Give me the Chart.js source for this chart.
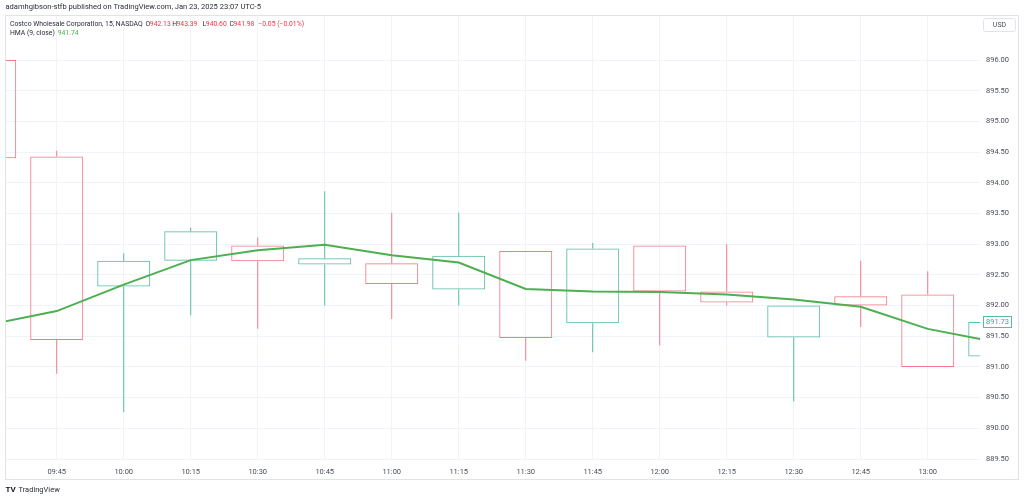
<!DOCTYPE html>
<html>
<head>
<meta charset="utf-8">
<script src="https://cdn.jsdelivr.net/npm/chart.js@4/dist/chart.umd.min.js"></script>
<style>
  html, body { margin: 0; padding: 0; background: #fff; }
  canvas { display: block; }
</style>
</head>
<body>
<canvas id="chart" width="1024" height="500"></canvas>
<script>
// 15 minute candles, index 0 = 09:30
const times  = ['09:30','09:45','10:00','10:15','10:30','10:45','11:00','11:15','11:30','11:45','12:00','12:15','12:30','12:45','13:00','13:15'];
const opens  = [896.00, 894.43, 892.31, 892.73, 892.98, 892.67, 892.69, 892.26, 892.89, 891.71, 892.98, 892.23, 891.48, 892.15, 892.18, 891.17];
const highs  = [896.20, 894.52, 892.85, 893.27, 893.11, 893.86, 893.51, 893.51, 892.89, 893.02, 892.98, 893.00, 892.00, 892.73, 892.56, 891.80];
const lows   = [894.35, 890.89, 890.26, 891.84, 891.62, 892.00, 891.78, 892.00, 891.10, 891.24, 891.35, 892.00, 890.44, 891.65, 891.00, 891.10];
const closes = [894.40, 891.44, 892.73, 893.21, 892.72, 892.77, 892.35, 892.81, 891.47, 892.93, 892.23, 892.05, 892.00, 892.00, 891.00, 891.73];
const hma    = [891.69, 891.91, 892.34, 892.74, 892.90, 892.99, 892.82, 892.70, 892.27, 892.23, 892.22, 892.18, 892.10, 891.98, 891.62, 891.41];

const xTickIdx = [1,2,3,4,5,6,7,8,9,10,11,12,13,14];
const yTicks = [889.5, 890, 890.5, 891, 891.5, 892, 892.5, 893, 893.5, 894, 894.5, 895, 895.5, 896];

const UP = '#56bca5';
const DOWN = '#f47a85';
const FONT = 'Roboto, "Noto Sans", sans-serif';

const isUp = i => closes[i] >= opens[i];
const colorOf = i => isUp(i) ? UP : DOWN;

const bodies = times.map((t, i) => ({ x: i, y: [opens[i], closes[i]] }));
const upperWicks = times.map((t, i) => {
  const top = Math.max(opens[i], closes[i]);
  return highs[i] > top ? { x: i, y: [top, highs[i]] } : { x: i, y: null };
});
const lowerWicks = times.map((t, i) => {
  const bot = Math.min(opens[i], closes[i]);
  return lows[i] < bot ? { x: i, y: [lows[i], bot] } : { x: i, y: null };
});
const hmaPoints = times.map((t, i) => ({ x: i, y: hma[i] }));

const wickStyle = {
  type: 'bar',
  barThickness: 1,
  borderWidth: 0,
  inflateAmount: 0,
  grouped: false,
  clip: 0,
  order: 3,
  backgroundColor: c => colorOf(c.dataIndex)
};

// font size that makes text span the given width
function fitSize(ctx, text, width) {
  ctx.font = '20px ' + FONT;
  return 20 * width / ctx.measureText(text).width;
}

const overlay = {
  id: 'overlay',
  afterDraw(chart) {
    const ctx = chart.ctx;
    ctx.save();
    // frame
    ctx.strokeStyle = '#e0e3eb';
    ctx.lineWidth = 1;
    ctx.strokeRect(5.5, 15.5, 1013, 464);

    // USD box
    ctx.beginPath();
    ctx.roundRect(983.5, 18.5, 32, 13, 2);
    ctx.stroke();
    ctx.fillStyle = '#4a4e5a';
    ctx.font = '7px ' + FONT;
    ctx.textBaseline = 'middle';
    ctx.textAlign = 'center';
    ctx.fillText('USD', 999.5, 25.5);

    // last price label
    const last = closes[closes.length - 1];
    const py = Math.round(chart.scales.y.getPixelForValue(last));
    ctx.fillStyle = '#fff';
    ctx.fillRect(983.5, py - 5.5, 28, 11);
    ctx.strokeStyle = UP;
    ctx.strokeRect(983.5, py - 5.5, 28, 11);
    ctx.fillStyle = '#3aa88f';
    ctx.font = '7.5px ' + FONT;
    ctx.textAlign = 'left';
    ctx.fillText(last.toFixed(2), 986, py + 0.5);

    // header
    const dark = '#2a2e39', red = '#f23645';
    const line1 = 'adamhgibson-stfb published on TradingView.com, Jan 23, 2025 23:07 UTC-5';
    ctx.font = fitSize(ctx, line1, 256) + 'px ' + FONT;
    ctx.fillStyle = dark;
    ctx.fillText(line1, 5.5, 7.5);

    const title = 'Costco Wholesale Corporation, 15, NASDAQ';
    const s2 = fitSize(ctx, title, 133);
    ctx.font = s2 + 'px ' + FONT;
    const parts = [
      [title, 10, dark],
      ['O', 145.5, dark], ['942.13', 149.8, red],
      ['H', 172.3, dark], ['943.39', 176.5, red],
      ['L', 202.5, dark], ['940.60', 205.8, red],
      ['C', 229.5, dark], ['941.98', 233.5, red],
      ['\u22120.05 (\u22120.01%)', 258.3, red]
    ];
    parts.forEach(([t, x, c]) => { ctx.fillStyle = c; ctx.fillText(t, x, 24); });
    ctx.fillStyle = dark;
    ctx.fillText('HMA (9, close)', 10, 33.5);
    ctx.fillStyle = '#4caf50';
    ctx.fillText('941.74', 57.7, 33.5);

    // footer logo
    ctx.fillStyle = '#131722';
    ctx.font = 'bold 8px ' + FONT;
    ctx.fillText('TV', 5.5, 490);
    ctx.font = '7.5px ' + FONT;
    ctx.fillStyle = '#2a2e39';
    ctx.fillText('TradingView', 18.5, 490);
    ctx.restore();
  }
};

new Chart(document.getElementById('chart'), {
  type: 'bar',
  data: {
    datasets: [
      {
        type: 'line',
        label: 'HMA',
        data: hmaPoints,
        borderColor: '#4caf50',
        borderWidth: 2,
        pointRadius: 0,
        tension: 0,
        clip: 0,
        order: 0
      },
      {
        type: 'bar',
        label: 'body',
        data: bodies,
        barThickness: 53,
        borderWidth: 1,
        borderSkipped: false,
        inflateAmount: 0,
        grouped: false,
        clip: 0,
        order: 1,
        backgroundColor: 'rgba(0,0,0,0)',
        borderColor: c => colorOf(c.dataIndex)
      },
      Object.assign({ label: 'upper', data: upperWicks }, wickStyle),
      Object.assign({ label: 'lower', data: lowerWicks }, wickStyle)
    ]
  },
  options: {
    responsive: false,
    devicePixelRatio: 1,
    animation: false,
    layout: { padding: { top: 16, left: 6, right: 0, bottom: 0 } },
    plugins: { legend: { display: false }, tooltip: { enabled: false } },
    scales: {
      x: {
        type: 'linear',
        min: 0.243,
        max: 14.78,
        offset: false,
        border: { display: false },
        grid: { color: '#f0f3fa', drawTicks: false, offset: false },
        afterBuildTicks: s => { s.ticks = xTickIdx.map(v => ({ value: v })); },
        afterFit: s => { s.height = 41; },
        ticks: {
          autoSkip: false,
          maxRotation: 0,
          padding: 9,
          color: '#4a4e5a',
          font: { family: FONT, size: 7.5 },
          callback: v => times[v]
        }
      },
      y: {
        type: 'linear',
        position: 'right',
        min: 889.5,
        max: 896.717,
        border: { display: false },
        grid: { color: '#f0f3fa', drawTicks: false },
        afterBuildTicks: s => { s.ticks = yTicks.map(v => ({ value: v })); },
        afterFit: s => { s.width = 44; },
        ticks: {
          padding: 6,
          color: '#4a4e5a',
          font: { family: FONT, size: 7.5 },
          callback: v => v.toFixed(2)
        }
      }
    }
  },
  plugins: [overlay]
});
</script>
</body>
</html>
